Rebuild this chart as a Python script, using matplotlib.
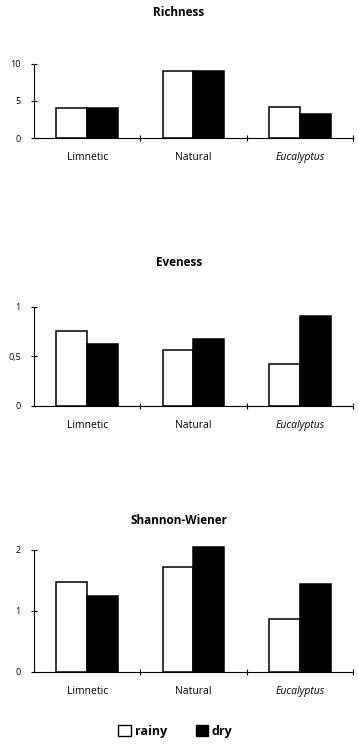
import matplotlib
matplotlib.use("Agg")
import matplotlib.pyplot as plt
from matplotlib.patches import Patch
import numpy as np

plt.rcParams['font.family'] = ['Open Sans', 'DejaVu Sans']

# data
sites = ['Limnetic', 'Natural', 'Eucalyptus']
richness_rainy = [4.0, 9.0, 4.2]
richness_dry = [4.0, 9.1, 3.3]
eveness_rainy = [0.75, 0.56, 0.42]
eveness_dry = [0.62, 0.67, 0.91]
shannon_rainy = [1.47, 1.72, 0.86]
shannon_dry = [1.24, 2.05, 1.43]

panels = [
    ('Richness', richness_rainy, richness_dry, [0, 5, 10], ['0', '5', '10'], (0, 10)),
    ('Eveness', eveness_rainy, eveness_dry, [0, 0.5, 1], ['0', '0,5', '1'], (0, 1)),
    ('Shannon-Wiener', shannon_rainy, shannon_dry, [0, 1, 2], ['0', '1', '2'], (0, 2)),
]

# axes boxes in figure fractions: left, bottom, width, height
boxes = [
    [0.095, 0.8145, 0.891, 0.0995],
    [0.095, 0.4547, 0.891, 0.1331],
    [0.095, 0.0972, 0.891, 0.1722],
]
ytops = [10, 1, 2.1]
title_y = [13, 262, 520]

fig = plt.figure(figsize=(3.58, 7.44), dpi=100)
x = np.arange(len(sites))
w = 0.29

for (title, rainy, dry, yt, ytl, bounds), box, ytop, ty in zip(panels, boxes, ytops, title_y):
    ax = fig.add_axes(box)
    ax.bar(x - w / 2, rainy, w, color='white', edgecolor='black', linewidth=1.1)
    ax.bar(x + w / 2, dry, w, color='black', edgecolor='black', linewidth=1.1)
    ax.set_xlim(-0.5, 2.5)
    ax.set_ylim(0, ytop)
    for s in ['top', 'right']:
        ax.spines[s].set_visible(False)
    ax.spines['left'].set_bounds(*bounds)
    ax.spines['left'].set_linewidth(0.8)
    ax.spines['bottom'].set_linewidth(0.8)
    ax.set_yticks(yt)
    ax.set_yticklabels(ytl, fontsize=6.5)
    ax.set_xticks([0.5, 1.5, 2.5])
    ax.set_xticklabels([])
    ax.tick_params(axis='both', direction='inout', length=5, width=0.8)
    ax.tick_params(axis='y', pad=7)
    for i, s in enumerate(sites):
        ax.annotate(s, (i, 0), xycoords=('data', 'axes fraction'), xytext=(0, -10),
                    textcoords='offset points', ha='center', va='top',
                    fontsize=7.5, style='italic' if s == 'Eucalyptus' else 'normal')
    fig.text(0.5, 1 - ty / 744, title, ha='center', va='center', fontsize=8.5, fontweight='bold')

handles = [Patch(facecolor='white', edgecolor='black', linewidth=1),
           Patch(facecolor='black', edgecolor='black', linewidth=1)]
fig.legend(handles, ['rainy', 'dry'], loc='center', bbox_to_anchor=(0.49, 13 / 744), ncol=2,
           frameon=False, prop={'size': 9, 'weight': 'bold'}, handlelength=1.0, handleheight=1.0,
           handletextpad=0.3, columnspacing=2.3)

fig.savefig('out.png', dpi=100)
